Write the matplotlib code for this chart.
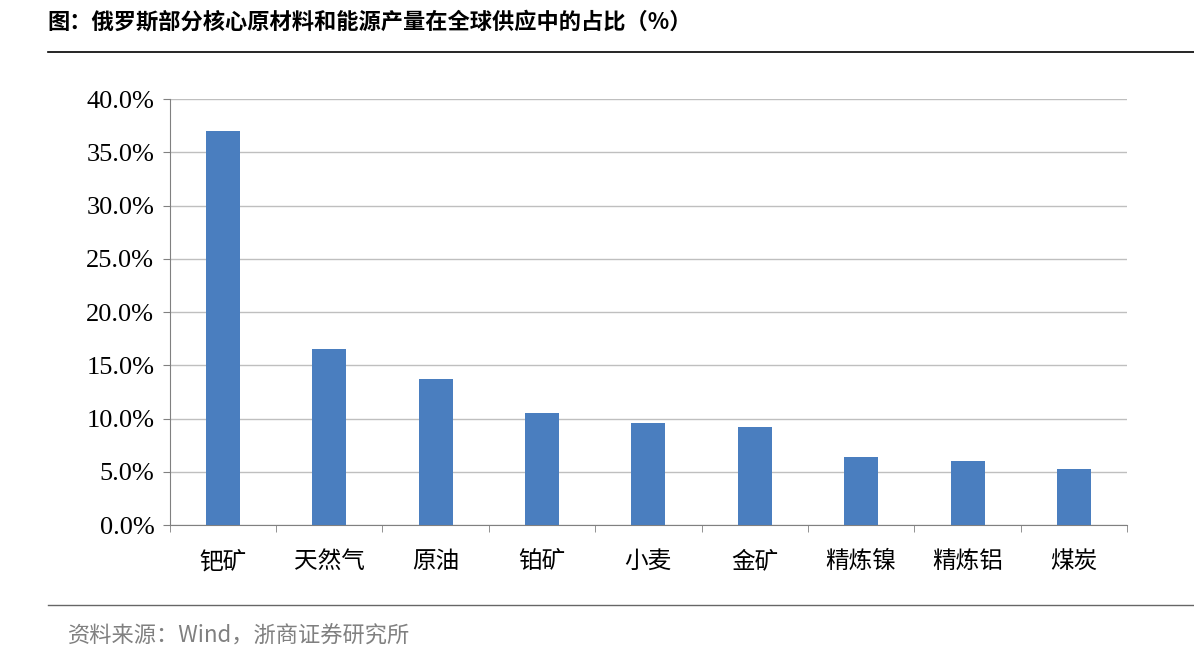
import matplotlib
matplotlib.use("Agg")
import matplotlib.pyplot as plt
from matplotlib.lines import Line2D

plt.rcParams['font.family'] = ['Noto Sans CJK SC', 'DejaVu Sans']

categories = ['钯矿', '天然气', '原油', '铂矿', '小麦', '金矿', '精炼镍', '精炼铝', '煤炭']
values = [37.0, 16.5, 13.7, 10.5, 9.6, 9.2, 6.4, 6.0, 5.3]
yticks = [0, 5, 10, 15, 20, 25, 30, 35, 40]
ytick_labels = ['0.0%', '5.0%', '10.0%', '15.0%', '20.0%', '25.0%', '30.0%', '35.0%', '40.0%']

fig = plt.figure(figsize=(11.94, 6.58), dpi=100)
ax = fig.add_axes([0.142, 0.202, 0.802, 0.6475])
x = range(len(categories))
ax.bar(x, values, width=0.32, color='#4A7EBF', zorder=3)
ax.set_xlim(-0.5, len(categories) - 0.5)
ax.set_ylim(0, 40)
ax.set_yticks(yticks)
ax.set_yticklabels(ytick_labels, fontfamily='Liberation Serif', fontsize=19)
ax.set_xticks(list(x))
ax.set_xticklabels(categories, fontsize=17)
ax.grid(axis='y', color='#BFBFBF', linewidth=1, zorder=0)
for s in ['top', 'right']:
    ax.spines[s].set_visible(False)
ax.spines['left'].set_color('#808080')
ax.spines['bottom'].set_color('#808080')
ax.tick_params(axis='y', length=5, color='#808080', pad=6)
ax.set_xticks([i + 0.5 for i in range(-1, len(categories))], minor=True)
ax.tick_params(axis='x', which='major', length=0, pad=18)
ax.tick_params(axis='x', which='minor', length=5, color='#808080')

fig.text(0.04, 1 - 22/658, '图：俄罗斯部分核心原材料和能源产量在全球供应中的占比（%）',
         fontsize=16, fontweight='bold', va='center', ha='left')
fig.add_artist(Line2D([0.04, 1.0], [1 - 52/658] * 2, color='black', linewidth=1.2))
fig.add_artist(Line2D([0.04, 1.0], [1 - 605/658] * 2, color='#666666', linewidth=1))
fig.text(0.057, 1 - 636/658, '资料来源：Wind，浙商证券研究所', fontsize=16, color='#808080',
         va='center', ha='left')

fig.savefig('out.png', dpi=100)
